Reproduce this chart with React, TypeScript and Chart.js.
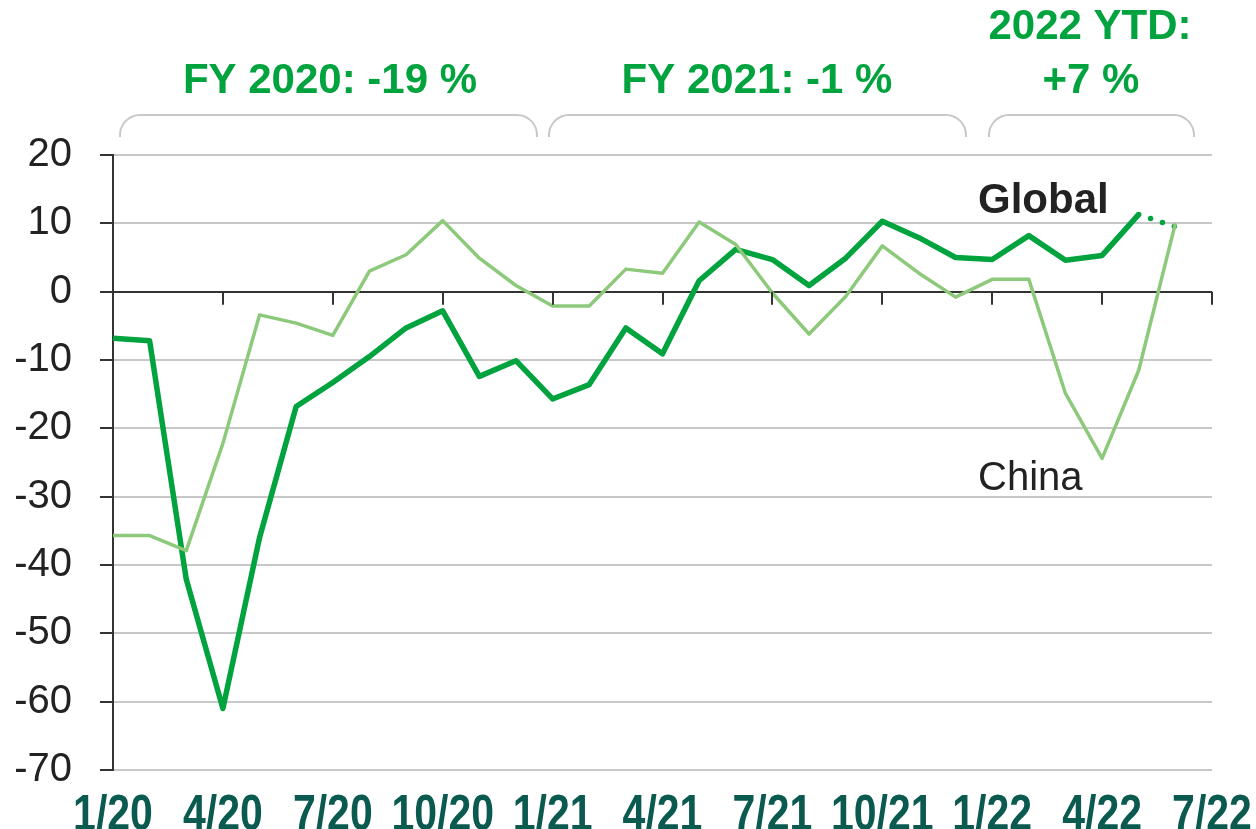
import React, { useEffect, useRef } from "react";
import { Chart, registerables } from "chart.js";

Chart.register(...registerables);

const months = [
  "1/20", "2/20", "3/20", "4/20", "5/20", "6/20", "7/20", "8/20", "9/20", "10/20", "11/20", "12/20",
  "1/21", "2/21", "3/21", "4/21", "5/21", "6/21", "7/21", "8/21", "9/21", "10/21", "11/21", "12/21",
  "1/22", "2/22", "3/22", "4/22", "5/22", "6/22", "7/22",
];

const globalValues = [
  -6.8, -7.2, -42.1, -61.0, -36.0, -16.8, -13.3, -9.5, -5.3, -2.8, -12.4, -10.1,
  -15.7, -13.6, -5.3, -9.1, 1.6, 6.2, 4.7, 0.9, 4.9, 10.3, 7.9, 5.0,
  4.7, 8.2, 4.6, 5.3, 11.3, 9.5,
];

const chinaValues = [
  -35.7, -35.7, -37.9, -22.2, -3.4, -4.6, -6.4, 3.0, 5.4, 10.4, 4.9, 0.9,
  -2.1, -2.1, 3.3, 2.7, 10.2, 6.9, -0.2, -6.2, -0.7, 6.7, 2.7, -0.8,
  1.8, 1.8, -14.9, -24.4, -11.5, 10.0,
];

const yTicks = [20, 10, 0, -10, -20, -30, -40, -50, -60, -70];

const periodLabels = ["FY 2020: -19 %", "FY 2021: -1 %"];
const ytdLabel = ["2022 YTD:", "+7 %"];
const seriesNames = ["Global", "China"];

const GREEN = "#00a33d";
const LIGHT = "#8dc97a";
const TEXT = "#222222";
const XLAB = "#0b5a4f";
const GRID = "#c8c8c8";

const annotations = {
  id: "annotations",
  afterDraw(chart: any) {
    const ctx = chart.ctx;
    const xs = chart.scales.x;
    const ys = chart.scales.y;
    const y0 = ys.getPixelForValue(0);

    // quarterly tick marks on the zero line
    ctx.save();
    ctx.strokeStyle = "#333";
    ctx.lineWidth = 2;
    for (let i = 0; i < months.length; i += 3) {
      const x = Math.round(xs.getPixelForValue(i));
      ctx.beginPath();
      ctx.moveTo(x, y0);
      ctx.lineTo(x, y0 + 13);
      ctx.stroke();
    }
    ctx.restore();

    // quarterly x labels (condensed bold)
    ctx.save();
    ctx.fillStyle = XLAB;
    ctx.font = "bold 50px 'Liberation Sans', Arial, sans-serif";
    ctx.textAlign = "center";
    ctx.textBaseline = "alphabetic";
    const sx = 0.82;
    for (let i = 0; i < months.length; i += 3) {
      const x = xs.getPixelForValue(i);
      ctx.save();
      ctx.translate(x, 830);
      ctx.scale(sx, 1);
      ctx.fillText(months[i], 0, 0);
      ctx.restore();
    }
    ctx.restore();

    // brackets
    const brackets = [
      [120, 537],
      [549, 966],
      [989, 1194],
    ];
    const yt = 115;
    const yb = 137;
    const r = 20;
    ctx.save();
    ctx.strokeStyle = GRID;
    ctx.lineWidth = 2;
    for (const [a, b] of brackets) {
      ctx.beginPath();
      ctx.moveTo(a, yb);
      ctx.lineTo(a, yt + r);
      ctx.arcTo(a, yt, a + r, yt, r);
      ctx.lineTo(b - r, yt);
      ctx.arcTo(b, yt, b, yt + r, r);
      ctx.lineTo(b, yb);
      ctx.stroke();
    }
    ctx.restore();

    ctx.save();
    ctx.fillStyle = GREEN;
    ctx.font = "bold 42px 'Liberation Sans', Arial, sans-serif";
    ctx.textAlign = "center";
    ctx.textBaseline = "alphabetic";
    ctx.fillText(periodLabels[0], 330, 93);
    ctx.fillText(periodLabels[1], 757, 93);
    ctx.fillText(ytdLabel[0], 1090, 39);
    ctx.fillText(ytdLabel[1], 1091, 93);

    ctx.textAlign = "left";
    ctx.fillStyle = TEXT;
    ctx.font = "bold 42px 'Liberation Sans', Arial, sans-serif";
    ctx.fillText(seriesNames[0], 978, 213);
    ctx.font = "40px 'Liberation Sans', Arial, sans-serif";
    ctx.fillText(seriesNames[1], 978, 490);
    ctx.restore();
  },
};

export default function App() {
  const ref = useRef<HTMLCanvasElement | null>(null);

  useEffect(() => {
    if (!ref.current) return;
    const chart = new Chart(ref.current, {
      type: "line",
      data: {
        labels: months,
        datasets: [
          {
            label: seriesNames[1],
            data: chinaValues,
            borderColor: LIGHT,
            borderWidth: 3.5,
            pointRadius: 0,
            tension: 0,
            borderJoinStyle: "round",
          },
          {
            label: seriesNames[0],
            data: globalValues,
            borderColor: GREEN,
            borderWidth: 5.5,
            pointRadius: 0,
            tension: 0,
            borderJoinStyle: "round",
            segment: {
              borderDash: (c: any) => (c.p0DataIndex >= 28 ? [0, 12.5] : undefined),
              borderCapStyle: (c: any) => (c.p0DataIndex >= 28 ? "round" : "butt"),
            },
          },
        ],
      },
      options: {
        responsive: false,
        animation: false,
        events: [],
        layout: { padding: { top: 155, right: 44, bottom: 0, left: 0 } },
        plugins: {
          legend: { display: false },
          tooltip: { enabled: false },
        },
        scales: {
          x: {
            type: "category",
            offset: false,
            grid: { display: false, drawTicks: false },
            border: { display: false },
            afterFit: (s: any) => {
              s.height = 59;
              s.paddingLeft = 0;
              s.paddingRight = 0;
            },
            ticks: { display: false, autoSkip: false, maxRotation: 0 },
          },
          y: {
            min: -70,
            max: 20,
            afterFit: (s: any) => {
              s.width = 113;
            },
            afterBuildTicks: (s: any) => {
              s.ticks = yTicks.map((v) => ({ value: v }));
            },
            grid: {
              color: (c: any) => (c.tick && c.tick.value === 0 ? "#333" : GRID),
              lineWidth: 2,
              tickColor: "#333",
              tickLength: 13,
            },
            border: { display: true, color: "#333", width: 2 },
            ticks: {
              padding: 28,
              color: TEXT,
              font: { family: "'Liberation Sans', Arial, sans-serif", size: 40 },
            },
          },
        },
      },
      plugins: [annotations],
    });
    return () => chart.destroy();
  }, []);

  return (
    <div style={{ position: "fixed", left: 0, top: 0, width: 1256, height: 829, background: "#fff" }}>
      <canvas ref={ref} width={1256} height={829} style={{ display: "block" }} />
    </div>
  );
}
